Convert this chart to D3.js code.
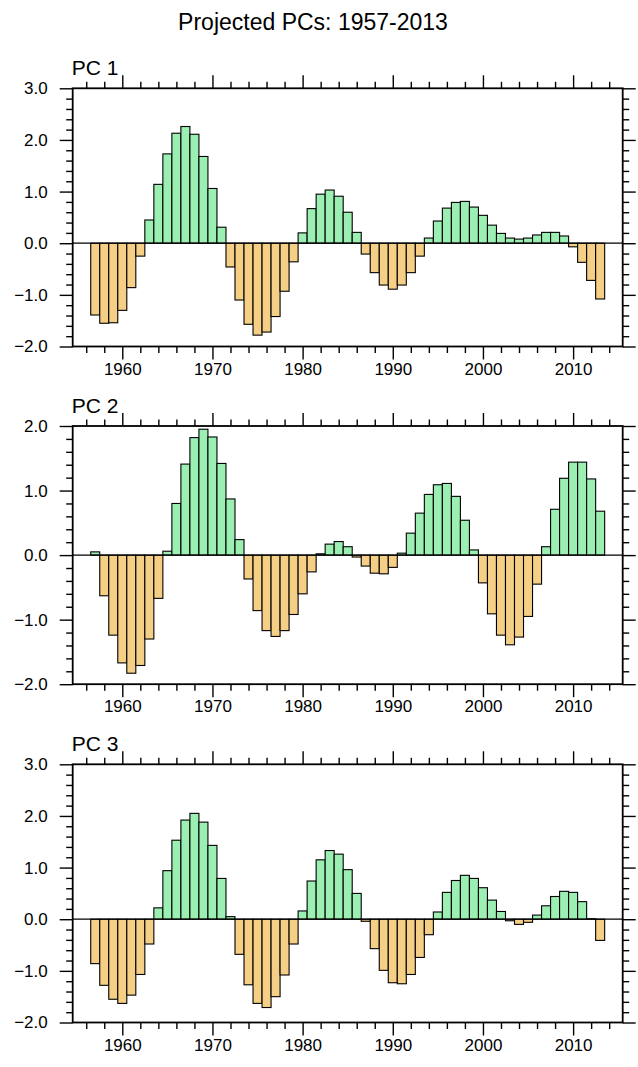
<!DOCTYPE html>
<html>
<head>
<meta charset="utf-8">
<script src="https://cdn.jsdelivr.net/npm/d3@7"></script>
<style>
  body { margin: 0; background: #fff; }
  svg text { font-family: "Liberation Sans", Arial, Helvetica, sans-serif; fill: #000; }
</style>
</head>
<body>
<div id="chart"></div>
<script>
// ---- data ----
const years = [1957, 1958, 1959, 1960, 1961, 1962, 1963, 1964, 1965, 1966,
  1967, 1968, 1969, 1970, 1971, 1972, 1973, 1974, 1975, 1976,
  1977, 1978, 1979, 1980, 1981, 1982, 1983, 1984, 1985, 1986,
  1987, 1988, 1989, 1990, 1991, 1992, 1993, 1994, 1995, 1996,
  1997, 1998, 1999, 2000, 2001, 2002, 2003, 2004, 2005, 2006,
  2007, 2008, 2009, 2010, 2011, 2012, 2013];

const pc1 = [-1.39, -1.55, -1.54, -1.30, -0.86, -0.25, 0.45, 1.14, 1.73, 2.13,
  2.26, 2.11, 1.68, 1.06, 0.31, -0.46, -1.10, -1.57, -1.78, -1.72,
  -1.42, -0.93, -0.36, 0.20, 0.67, 0.95, 1.03, 0.91, 0.60, 0.21,
  -0.21, -0.57, -0.81, -0.89, -0.81, -0.57, -0.25, 0.10, 0.43, 0.68,
  0.79, 0.81, 0.70, 0.54, 0.35, 0.19, 0.10, 0.08, 0.10, 0.16,
  0.21, 0.21, 0.14, -0.07, -0.37, -0.72, -1.08];

const pc2 = [0.05, -0.63, -1.24, -1.67, -1.83, -1.71, -1.30, -0.67, 0.06, 0.80,
  1.41, 1.82, 1.95, 1.83, 1.42, 0.87, 0.24, -0.37, -0.86, -1.17,
  -1.26, -1.17, -0.92, -0.60, -0.26, 0.02, 0.17, 0.21, 0.13, -0.03,
  -0.17, -0.28, -0.29, -0.19, 0.03, 0.34, 0.65, 0.94, 1.09, 1.11,
  0.91, 0.54, 0.08, -0.43, -0.91, -1.24, -1.39, -1.27, -0.95, -0.45,
  0.13, 0.71, 1.19, 1.44, 1.44, 1.18, 0.68];

const pc3 = [-0.86, -1.28, -1.55, -1.63, -1.47, -1.07, -0.48, 0.22, 0.94, 1.53,
  1.92, 2.05, 1.88, 1.43, 0.79, 0.05, -0.68, -1.27, -1.63, -1.71,
  -1.50, -1.08, -0.48, 0.16, 0.74, 1.15, 1.33, 1.26, 0.96, 0.50,
  -0.04, -0.57, -0.99, -1.23, -1.25, -1.07, -0.74, -0.30, 0.14, 0.52,
  0.75, 0.85, 0.79, 0.61, 0.37, 0.15, -0.03, -0.10, -0.06, 0.08,
  0.26, 0.44, 0.54, 0.52, 0.34, 0.01, -0.41];

const panelNames = ["PC 1", "PC 2", "PC 3"];
const panelValues = [pc1, pc2, pc3];
const yDomains = [[-2, 3], [-2, 2], [-2, 3]];
const yTickValues = [[-2, -1, 0, 1, 2, 3], [-2, -1, 0, 1, 2], [-2, -1, 0, 1, 2, 3]];
const xTickValues = [1960, 1970, 1980, 1990, 2000, 2010];
const xDomain = [1954.5, 2015.5];
const titleText = "Projected PCs: 1957-2013";

// ---- layout ----
const W = 638, H = 1067;
const left = 72.7, right = 622.7;
const panelTops = [88.3, 426, 764.3];
const panelH = 258.2;
const posColor = "#9cefb2";
const negColor = "#f5cf86";
const majorLen = 13, minorLen = 6.5;

const svg = d3.select("#chart").append("svg")
  .attr("width", W).attr("height", H);

svg.append("text")
  .attr("x", 313).attr("y", 30)
  .attr("text-anchor", "middle")
  .style("font-size", "23px")
  .text(titleText);

const x = d3.scaleLinear().domain(xDomain).range([left, right]);

// minor tick positions
const xMinor = d3.range(1956, 2015, 2).filter(v => v % 10 !== 0);

panelValues.forEach((vals, i) => {
  const top = panelTops[i];
  const y = d3.scaleLinear().domain(yDomains[i]).range([top + panelH, top]);
  const yMinor = d3.range(yDomains[i][0] * 5, yDomains[i][1] * 5 + 1)
    .map(v => v / 5).filter(v => Math.abs(v - Math.round(v)) > 1e-6);

  const g = svg.append("g");

  // bars
  g.append("g").selectAll("rect")
    .data(years.map((yr, k) => ({ year: yr, value: vals[k] })))
    .enter().append("rect")
    .attr("x", d => x(d.year - 0.5))
    .attr("width", d => x(d.year + 0.5) - x(d.year - 0.5))
    .attr("y", d => y(Math.max(0, d.value)))
    .attr("height", d => Math.abs(y(d.value) - y(0)))
    .attr("fill", d => d.value >= 0 ? posColor : negColor)
    .attr("stroke", "#000")
    .attr("stroke-width", 1.1);

  // zero reference line
  g.append("line")
    .attr("x1", left).attr("x2", right)
    .attr("y1", y(0)).attr("y2", y(0))
    .attr("stroke", "#000").attr("stroke-width", 1.2);

  const fmt = d3.format(".1f");

  // bottom axis (labels + major), minor
  g.append("g")
    .attr("transform", `translate(0,${top + panelH})`)
    .call(d3.axisBottom(x).tickValues(xTickValues).tickSize(majorLen).tickSizeOuter(0).tickPadding(3).tickFormat(d3.format("d")))
    .call(a => a.selectAll("text").style("font-size", "17px"));
  g.append("g")
    .attr("transform", `translate(0,${top + panelH})`)
    .call(d3.axisBottom(x).tickValues(xMinor).tickSize(minorLen).tickSizeOuter(0).tickFormat(""));
  // top axis
  g.append("g")
    .attr("transform", `translate(0,${top})`)
    .call(d3.axisTop(x).tickValues(xTickValues).tickSize(majorLen).tickSizeOuter(0).tickFormat(""));
  g.append("g")
    .attr("transform", `translate(0,${top})`)
    .call(d3.axisTop(x).tickValues(xMinor).tickSize(minorLen).tickSizeOuter(0).tickFormat(""));
  // left axis
  g.append("g")
    .attr("transform", `translate(${left},0)`)
    .call(d3.axisLeft(y).tickValues(yTickValues[i]).tickSize(majorLen).tickSizeOuter(0).tickPadding(12).tickFormat(fmt))
    .call(a => a.selectAll("text").style("font-size", "17px"));
  g.append("g")
    .attr("transform", `translate(${left},0)`)
    .call(d3.axisLeft(y).tickValues(yMinor).tickSize(minorLen).tickSizeOuter(0).tickFormat(""));
  // right axis
  g.append("g")
    .attr("transform", `translate(${right},0)`)
    .call(d3.axisRight(y).tickValues(yTickValues[i]).tickSize(majorLen).tickSizeOuter(0).tickFormat(""));
  g.append("g")
    .attr("transform", `translate(${right},0)`)
    .call(d3.axisRight(y).tickValues(yMinor).tickSize(minorLen).tickSizeOuter(0).tickFormat(""));

  g.selectAll(".domain").remove();
  g.selectAll(".tick line").attr("stroke", "#000").attr("stroke-width", 1.4);

  // frame
  g.append("rect")
    .attr("x", left).attr("y", top)
    .attr("width", right - left).attr("height", panelH)
    .attr("fill", "none").attr("stroke", "#000").attr("stroke-width", 1.8);

  // panel label
  g.append("text")
    .attr("x", left - 1).attr("y", top - 13)
    .style("font-size", "21px")
    .text(panelNames[i]);
});
</script>
</body>
</html>
